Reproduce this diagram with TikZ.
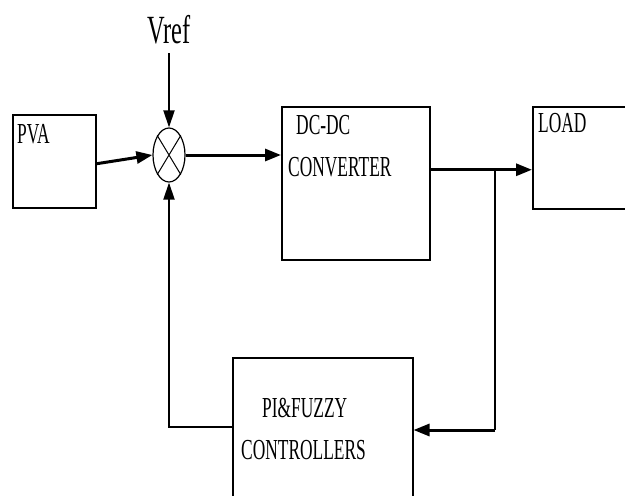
\documentclass[tikz,border=0pt]{standalone}
\usepackage{fontspec}
\setmainfont{Liberation Serif}
\usetikzlibrary{shapes.geometric,arrows.meta}
\newcommand\sqz[1]{\scalebox{0.6}[1]{#1}}
\tikzset{
  blk/.style={draw,line width=1.5pt,rectangle,anchor=north west,inner sep=0pt},
  lbl/.style={anchor=base west,inner sep=0pt,font=\fontsize{29}{29}\selectfont},
  thk/.style={line width=3pt,-{Triangle[length=16pt,width=12pt]}},
  thn/.style={line width=2pt,-{Triangle[length=17pt,width=11pt]}},
  wire/.style={line width=1.5pt}
}
\begin{document}
\begin{tikzpicture}[x=1pt,y=-1pt]
\useasboundingbox (0,0) rectangle (625,496);
% blocks
\node[blk,minimum width=83pt,minimum height=93pt] (pva) at (12,114) {};
\node[blk,minimum width=148pt,minimum height=153pt] (dc) at (281,106) {};
\node[blk,minimum width=100pt,minimum height=102pt] (load) at (532,106) {};
\node[blk,minimum width=180pt,minimum height=160pt] (pi) at (232,357) {};
\node[draw,line width=1.2pt,ellipse,minimum width=32pt,minimum height=54pt,inner sep=0pt] (sum) at (169,155) {};
\draw[line width=1pt] (sum.north east) -- (sum.south west) (sum.north west) -- (sum.south east);
% labels
\node[anchor=base west,inner sep=0pt,font=\fontsize{40}{40}\selectfont] (vref) at (147,43) {\scalebox{0.61}[1]{Vref}};
\node[lbl] (tpva) at (17,143) {\sqz{PVA}};
\node[lbl] (tdc1) at (296,134) {\sqz{DC-DC}};
\node[lbl] (tdc2) at (288,176) {\sqz{CONVERTER}};
\node[lbl] (tload) at (538,132) {\sqz{LOAD}};
\node[lbl] (tpi1) at (262,417) {\sqz{PI\&FUZZY}};
\node[lbl] (tpi2) at (241,459) {\sqz{CONTROLLERS}};
% coordinates
\coordinate (vin) at (169,53);
\coordinate (dco) at ([yshift=13.5pt]dc.east);
\coordinate (br) at (495,169);
\coordinate (bot) at (495,430);
% connectors
\draw[thn] (vin) -- (sum.north);
\draw[thk] ([yshift=-2.5pt]pva.east) -- (sum.west);
\draw[thk] (sum.east) -- (sum.east -| dc.west);
\draw[thk] (dco) -- (dco -| load.west);
\draw[wire] (br) -- (bot);
\draw[thk] (bot) -- (bot -| pi.east);
\draw[thn] (pi.west |- 0,427) -| (sum.south);
\end{tikzpicture}
\end{document}
